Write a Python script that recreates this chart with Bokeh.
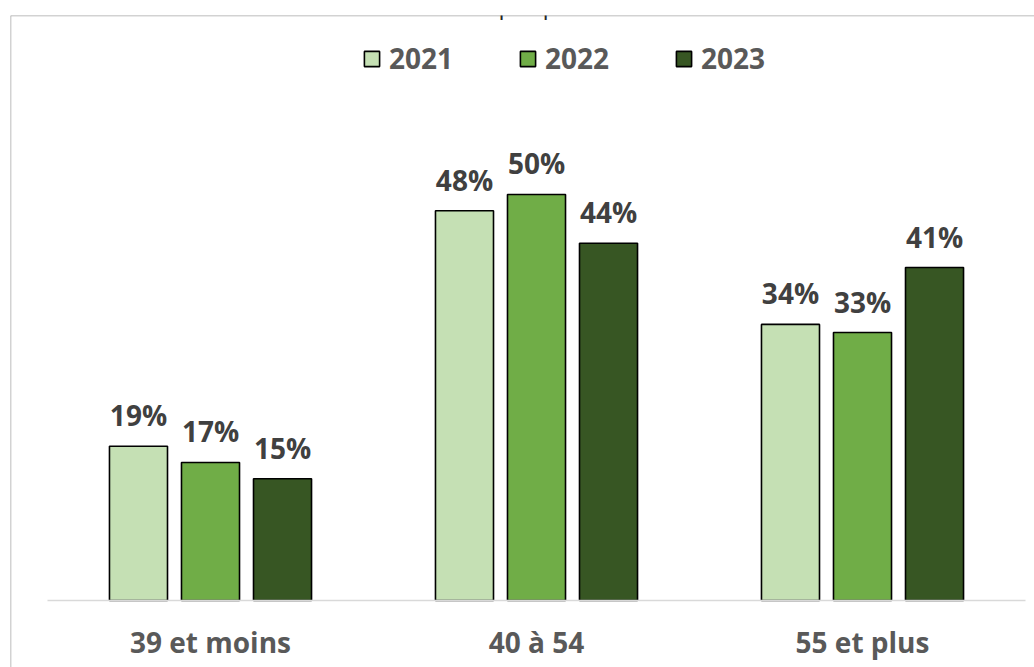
from bokeh.plotting import figure
from bokeh.models import (ColumnDataSource, Range1d, LinearAxis, FixedTicker, Legend,
                          LegendItem, Span, Label)
from bokeh.transform import dodge
from bokeh.core.properties import value
from bokeh.embed import file_html
from bokeh.resources import INLINE

# ---- data ----
categories = ["39 et moins", "40 à 54", "55 et plus"]
years = ["2021", "2022", "2023"]
values_2021 = [19, 48, 34]
values_2022 = [17, 50, 33]
values_2023 = [15, 44, 41]
title_text = "Graphique 2."

colors = ["#C5E0B4", "#70AD47", "#375623"]
series = [values_2021, values_2022, values_2023]

FONT = "Open Sans"
W, H = 1034, 667
ML, MT = 10, 15

p = figure(width=W, height=H, output_backend="svg", toolbar_location=None,
           x_axis_location=None, y_axis_location=None,
           min_border_left=ML, min_border_top=MT, min_border_right=0, min_border_bottom=0,
           x_range=Range1d(-0.6135, 2.5276), y_range=Range1d(-8.25, 72.04))
p.outline_line_color = None
p.grid.visible = False
p.background_fill_color = "white"
p.border_fill_color = "white"

offsets = [-0.2209, 0.0, 0.2209]
bar_w = 0.178

renderers = []
for yr, vals, col, off in zip(years, series, colors, offsets):
    src = ColumnDataSource(dict(idx=list(range(len(categories))), v=vals,
                                lbl=[f"{v}%" for v in vals]))
    r = p.vbar(x=dodge("idx", off), top="v", bottom=0, width=bar_w, source=src,
               fill_color=col, line_color="black", line_width=1.6)
    renderers.append((yr, r))
    p.text(x=dodge("idx", off), y="v", text="lbl", source=src,
           text_font=value(FONT), text_font_style="bold", text_font_size="28px",
           text_color="#404040", text_align="center", text_baseline="alphabetic",
           y_offset=-31)

# category axis on the baseline
ax = LinearAxis(fixed_location=0, ticker=FixedTicker(ticks=list(range(len(categories)))),
                major_label_overrides={i: c for i, c in enumerate(categories)},
                bounds=(-0.5, len(categories) - 0.5))
ax.axis_line_color = "#D9D9D9"
ax.axis_line_width = 1.5
ax.major_tick_line_color = None
ax.minor_tick_line_color = None
ax.major_tick_out = 0
ax.major_tick_in = 0
ax.major_label_standoff = 22
ax.major_label_text_font = FONT
ax.major_label_text_font_style = "bold"
ax.major_label_text_font_size = "28px"
ax.major_label_text_color = "#595959"
p.add_layout(ax, "below")

# chart area border (left and top visible)
p.add_layout(Span(location=-0.6135, dimension="height", line_color="#A6A6A6", line_width=1.5))
p.add_layout(Span(location=72.04, dimension="width", line_color="#A6A6A6", line_width=1.5))

legend = Legend(items=[LegendItem(label=yr, renderers=[r]) for yr, r in renderers],
                orientation="horizontal", location=(352, 590),
                glyph_width=19, glyph_height=19, label_standoff=8, spacing=65,
                padding=0, margin=0, border_line_color=None, background_fill_alpha=0,
                label_text_font=FONT, label_text_font_style="bold",
                label_text_font_size="28px", label_text_color="#595959")
p.add_layout(legend, "center")

title = Label(x=520, y=H - 4, x_units="screen", y_units="screen", text=title_text,
              text_font=FONT, text_font_size="24px", text_color="#262626",
              text_align="center", text_baseline="alphabetic")
p.add_layout(title)

open("out.html", "w").write(file_html(p, INLINE))
